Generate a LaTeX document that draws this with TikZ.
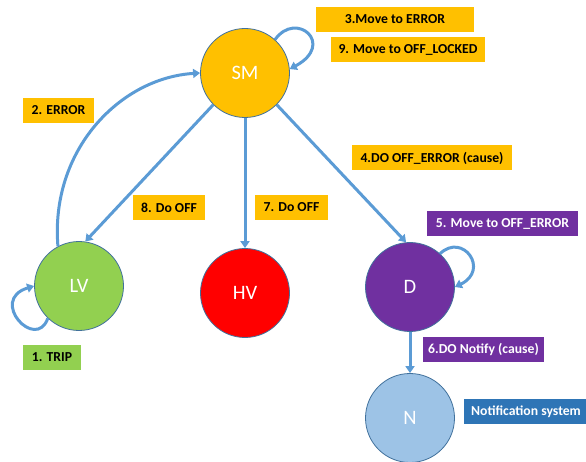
\documentclass[tikz,border=0pt]{standalone}
\usepackage{fontspec}
\setmainfont{Carlito}
\usetikzlibrary{arrows.meta}
\definecolor{smfill}{HTML}{FFC000}
\definecolor{lvfill}{HTML}{92D050}
\definecolor{hvfill}{HTML}{FF0000}
\definecolor{dfill}{HTML}{7030A0}
\definecolor{nfill}{HTML}{9DC3E6}
\definecolor{rim}{HTML}{41719C}
\definecolor{wire}{HTML}{5B9BD5}
\definecolor{sysblue}{HTML}{2E75B6}
\tikzset{
  state/.style={circle, draw=rim, line width=0.8pt, minimum size=89pt, inner sep=0pt,
    text=white, font=\fontsize{20.5}{24}\selectfont},
  lbl/.style={rectangle, minimum height=25pt, inner sep=0pt,
    font=\bfseries\fontsize{13.7}{16}\selectfont},
  conn/.style={draw=wire, line width=3pt, -{Triangle[width=9pt,length=7pt]}},
}
\begin{document}
\begin{tikzpicture}[x=1pt,y=-1pt]
\useasboundingbox (0,0) rectangle (586,462);
\begin{scope}
\clip (0,0) rectangle (586,462);
% states
\node[state, fill=smfill] (SM) at (245,73) {SM};
\node[state, fill=lvfill] (LV) at (79,286) {LV};
\node[state, fill=hvfill] (HV) at (245,293) {HV};
\node[state, fill=dfill]  (D)  at (410,287) {D};
\node[state, fill=nfill]  (N)  at (410,418) {N};
\end{scope}

% transition labels
\node[lbl, fill=smfill, minimum width=158pt] (l3) at (395,19.5) {3.Move to ERROR};
\node[lbl, fill=smfill, minimum width=154pt] (l9) at (408,50) {9. Move to OFF\_LOCKED};
\node[lbl, fill=smfill, minimum width=71pt]  (l2) at (58.5,110.5) {2. ERROR};
\node[lbl, fill=smfill, minimum width=72pt]  (l8) at (169,207.5) {8. Do OFF};
\node[lbl, fill=smfill, minimum width=73pt]  (l7) at (291.5,207.5) {7. Do OFF};
\node[lbl, fill=smfill, minimum width=160pt] (l4) at (432,158) {4.DO OFF\_ERROR (cause)};
\node[lbl, fill=dfill, text=white, minimum width=151pt] (l5) at (502.5,223.5) {5. Move to OFF\_ERROR};
\node[lbl, fill=dfill, text=white, minimum width=121pt] (l6) at (483.5,349.5) {6.DO Notify (cause)};
\node[lbl, fill=sysblue, text=white, minimum width=124pt] (ln) at (526,411.5) {Notification system};
\node[lbl, fill=lvfill, minimum width=58pt]  (l1) at (52,357.5) {1. TRIP};

% connectors
\draw[conn] (SM.225) -- (LV.82);
\draw[conn] (SM) -- (HV);
\draw[conn] (SM.315) -- (D.95);
\draw[conn] (D) -- (N);
\draw[conn] (LV.118) .. controls (50,150) and (120,78) .. (SM.180);

% self loops
\draw[conn] (SM.48) .. controls (296,10) and (336,44) .. (SM.5);
\draw[conn] (D.48) .. controls (463,232) and (490,270) .. (D.0);
\draw[conn] (LV.226) .. controls (36,352) and (-12,300) .. (LV.180);
\end{tikzpicture}
\end{document}
